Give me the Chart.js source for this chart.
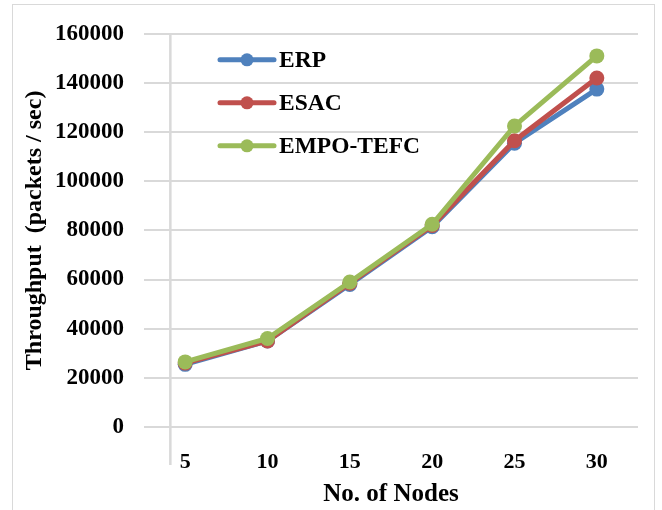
<!DOCTYPE html>
<html>
<head>
<meta charset="utf-8">
<script src="https://cdn.jsdelivr.net/npm/chart.js@4/dist/chart.umd.min.js"></script>
<style>
  html, body { margin: 0; padding: 0; background: #fff; }
  #wrap { position: relative; width: 662px; height: 510px; overflow: hidden; }
  #frame { position: absolute; left: 12px; top: 4px; width: 643px; height: 520px; border: 1.5px solid #d9d9d9; box-sizing: border-box; }
  canvas { position: absolute; left: 0; top: 0; }
</style>
</head>
<body>
<div id="wrap">
  <div id="frame"></div>
  <canvas id="chart" width="662" height="510"></canvas>
</div>
<script>
// throughput vs number of nodes
const nodes = ['5', '10', '15', '20', '25', '30'];
const erp = [25500, 35000, 58000, 81500, 115500, 137500];
const esac = [26000, 35000, 58500, 82000, 116500, 142000];
const empoTefc = [26500, 36000, 59000, 82500, 122500, 151000];

const seriesNames = ['ERP', 'ESAC', 'EMPO-TEFC'];
const seriesColors = ['#4F81BD', '#C0504D', '#9BBB59'];

const FONT = '"Liberation Serif", "Times New Roman", serif';

// legend drawn inside the plot, top-left, one row per series
const innerLegend = {
  id: 'innerLegend',
  afterDatasetsDraw(chart) {
    const ctx = chart.ctx;
    const area = chart.chartArea;
    const x0 = area.left + 76;
    const y0 = area.top + 26;
    ctx.save();
    chart.data.datasets.forEach((ds, i) => {
      const y = y0 + i * 43;
      ctx.strokeStyle = ds.borderColor;
      ctx.lineWidth = 5;
      ctx.lineCap = 'round';
      ctx.beginPath();
      ctx.moveTo(x0, y);
      ctx.lineTo(x0 + 54, y);
      ctx.stroke();
      ctx.fillStyle = ds.borderColor;
      ctx.beginPath();
      ctx.arc(x0 + 27, y, 6.5, 0, Math.PI * 2);
      ctx.fill();
      ctx.fillStyle = '#000';
      ctx.font = 'bold 23.5px ' + FONT;
      ctx.textBaseline = 'middle';
      ctx.textAlign = 'left';
      ctx.fillText(ds.label, x0 + 59, y + 1);
    });
    ctx.restore();
  }
};

// vertical axis line that sits just left of the first category
const axisLine = {
  id: 'axisLine',
  beforeDatasetsDraw(chart) {
    const ctx = chart.ctx;
    const xs = chart.scales.x;
    const step = xs.getPixelForValue(1) - xs.getPixelForValue(0);
    const x = xs.getPixelForValue(0) - step * 0.18;
    ctx.save();
    ctx.strokeStyle = '#d9d9d9';
    ctx.lineWidth = 2.5;
    ctx.beginPath();
    ctx.moveTo(x, chart.chartArea.top);
    ctx.lineTo(x, chart.chartArea.bottom + 38);
    ctx.stroke();
    ctx.restore();
  }
};

const seriesData = [erp, esac, empoTefc];

new Chart(document.getElementById('chart'), {
  type: 'line',
  data: {
    labels: nodes,
    datasets: seriesData.map((d, i) => ({
      label: seriesNames[i],
      data: d,
      order: seriesData.length - i, // later series drawn on top
      borderColor: seriesColors[i],
      backgroundColor: seriesColors[i],
      borderWidth: 5,
      pointRadius: 7.5,
      pointBorderWidth: 0,
      tension: 0
    }))
  },
  options: {
    responsive: false,
    animation: false,
    layout: { padding: { top: 27, right: 24, left: 0, bottom: 0 } },
    plugins: {
      legend: { display: false },
      tooltip: { enabled: false }
    },
    scales: {
      x: {
        offset: true,
        grid: { display: false },
        border: { display: false },
        ticks: {
          color: '#000',
          padding: 14,
          font: { family: FONT, size: 22, weight: 'bold' }
        },
        title: {
          display: true,
          text: 'No. of Nodes',
          color: '#000',
          padding: { top: 6, bottom: 0 },
          font: { family: FONT, size: 25, weight: 'bold' }
        },
        afterFit(scale) { scale.height = 83; }
      },
      y: {
        min: 0,
        max: 160000,
        grid: { color: '#d9d9d9', lineWidth: 2, drawTicks: false },
        border: { display: false },
        ticks: {
          stepSize: 20000,
          color: '#000',
          padding: 20,
          callback: v => String(v),
          font: { family: FONT, size: 23, weight: 'bold' }
        },
        title: {
          display: true,
          text: 'Throughput  (packets / sec)',
          color: '#000',
          padding: { top: 20, bottom: 0 },
          font: { family: FONT, size: 24, weight: 'bold' }
        },
        afterFit(scale) { scale.width = 144; }
      }
    }
  },
  plugins: [axisLine, innerLegend]
});
</script>
</body>
</html>
